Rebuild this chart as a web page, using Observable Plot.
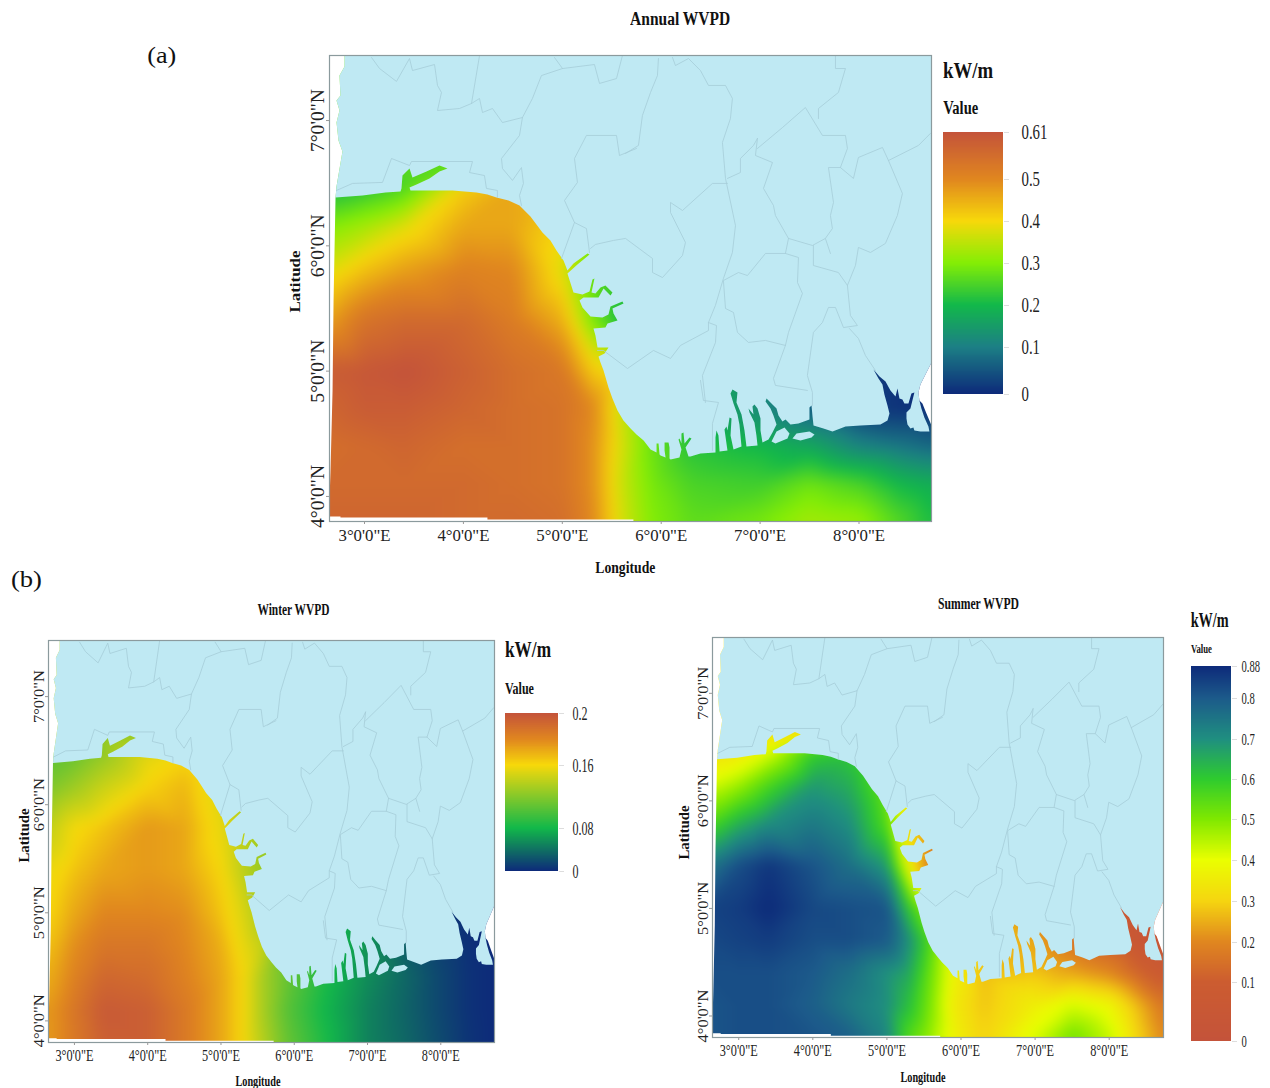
<!DOCTYPE html>
<html><head><meta charset="utf-8">
<script src="https://cdn.jsdelivr.net/npm/d3@7"></script>
<script src="https://cdn.jsdelivr.net/npm/@observablehq/plot@0.6"></script>
<style>
html,body{margin:0;padding:0;background:#fff}
#page{position:relative;width:1270px;height:1088px;overflow:hidden;font-family:"Liberation Serif",serif;color:#111}
#page>svg{position:absolute;overflow:visible}
.t{position:absolute;white-space:nowrap;line-height:1}
</style></head><body><div id="page"></div>
<script>
// Sampled grid of the wave-power surface: columns are longitudes, rows latitudes
const gridLons=[2.64,3,3.4,4,4.5,5,5.3,5.6,5.9,6.3,7,7.5,8,8.4,8.74];
const gridLats=[3.79,4.1,4.4,4.7,5.0,5.4,5.8,6.15,6.47,6.62,7.53];
const annualRows=[
[.57,.57,.57,.56,.56,.55,.50,.37,.30,.27,.29,.33,.32,.26,.21],
[.56,.56,.56,.56,.55,.54,.49,.36,.29,.25,.24,.28,.25,.20,.18],
[.55,.56,.57,.55,.55,.54,.49,.37,.28,.22,.20,.17,.11,.09,.07],
[.57,.59,.59,.57,.55,.54,.50,.36,.27,.20,.12,.06,.02,.01,.01],
[.59,.60,.61,.58,.55,.53,.42,.38,.30,.20,.12,.08,.03,.01,0],
[.47,.54,.56,.56,.52,.45,.30,.20,.20,.20,.15,.10,.03,.01,.01],
[.38,.43,.47,.51,.50,.38,.27,.25,.25,.25,.20,.10,.03,.01,.01],
[.30,.33,.38,.46,.46,.40,.30,.30,.30,.30,.20,.10,.03,.01,.01],
[.20,.22,.25,.41,.46,.42,.30,.30,.30,.30,.20,.10,.03,.01,.01],
[.25,.25,.26,.27,.30,.30,.30,.30,.30,.30,.20,.10,.03,.01,.01],
[.25,.25,.26,.27,.30,.30,.30,.30,.30,.30,.20,.10,.03,.01,.01]];
const winterRows=[
[.175,.185,.195,.195,.185,.172,.16,.135,.11,.09,.05,.035,.018,.005,0],
[.175,.186,.197,.195,.185,.172,.16,.13,.105,.085,.05,.033,.016,.004,0],
[.170,.182,.192,.19,.182,.172,.16,.13,.11,.09,.055,.035,.016,.004,0],
[.165,.178,.186,.186,.18,.17,.155,.14,.11,.09,.06,.03,.012,.003,0],
[.16,.172,.18,.18,.178,.165,.15,.13,.11,.09,.06,.03,.01,.002,0],
[.155,.165,.172,.175,.172,.16,.14,.125,.11,.09,.05,.03,.01,0,0],
[.14,.158,.165,.175,.172,.155,.14,.13,.13,.1,.05,.03,.01,0,0],
[.118,.13,.145,.162,.168,.15,.13,.13,.13,.1,.05,.03,.01,0,0],
[.105,.11,.125,.152,.16,.15,.13,.13,.13,.1,.05,.03,.01,0,0],
[.125,.125,.125,.125,.13,.13,.13,.13,.13,.1,.05,.03,.01,0,0],
[.125,.125,.125,.125,.13,.13,.13,.13,.13,.1,.05,.03,.01,0,0]];
const summerRows=[
[.81,.82,.82,.81,.79,.72,.55,.47,.37,.30,.42,.52,.44,.30,.20],
[.81,.82,.82,.79,.74,.70,.62,.50,.35,.28,.36,.42,.38,.26,.16],
[.82,.82,.82,.80,.76,.70,.66,.52,.37,.27,.28,.24,.20,.12,.08],
[.83,.84,.85,.82,.82,.80,.70,.55,.38,.30,.24,.16,.10,.05,.03],
[.84,.85,.88,.83,.82,.81,.60,.45,.30,.25,.20,.10,.06,.04,.03],
[.75,.82,.86,.81,.76,.68,.36,.15,.18,.20,.20,.10,.05,.03,.03],
[.56,.64,.70,.74,.70,.55,.30,.20,.25,.25,.20,.10,.05,.03,.03],
[.42,.47,.56,.68,.65,.52,.40,.30,.30,.25,.20,.10,.05,.03,.03],
[.32,.33,.40,.58,.60,.50,.40,.30,.30,.25,.20,.10,.05,.03,.03],
[.33,.33,.33,.33,.35,.35,.35,.30,.30,.25,.20,.10,.05,.03,.03],
[.33,.33,.33,.33,.35,.35,.35,.30,.30,.25,.20,.10,.05,.03,.03]];

// Colour scales
const annualStops=[0,.1,.2,.3,.4,.5,.61];
const annualColors=["#0d2a7a","#1c7f85","#12b84a","#84ee05","#f7d80a","#e0861f","#c4533a"];
const winterStops=[0,.08,.16,.18,.2];
const winterColors=["#0d2a7a","#12b84a","#f7d80a","#e0861f","#c4533a"];
const summerStops=[0,.1,.2,.3,.4,.5,.6,.7,.8,.88];
const summerColors=["#c4533a","#cc5c30","#e0861f","#f5d510","#eaff00","#7fe800","#2ecb2e","#1f8f80","#1c5a8a","#0d2a7a"];

// Land outline, lon/lat, running clockwise from the north-west corner of the map
const land=[[2.798,7.519],[8.733,7.519],[8.733,5.069],[8.682,4.989],[8.621,4.894],[8.601,4.830],[8.611,4.766],[8.631,4.702],[8.661,4.630],[8.702,4.558],[8.712,4.519],[8.621,4.519],[8.560,4.527],[8.550,4.551],[8.520,4.543],[8.490,4.575],[8.480,4.622],[8.480,4.670],[8.520,4.702],[8.540,4.766],[8.560,4.830],[8.530,4.822],[8.500,4.742],[8.459,4.742],[8.439,4.774],[8.409,4.782],[8.389,4.861],[8.369,4.798],[8.318,4.846],[8.268,4.918],[8.207,4.958],[8.146,5.013],[8.197,4.942],[8.237,4.894],[8.257,4.814],[8.288,4.726],[8.308,4.662],[8.288,4.606],[8.217,4.575],[8.015,4.567],[7.864,4.559],[7.732,4.519],[7.641,4.543],[7.540,4.567],[7.530,4.638],[7.520,4.726],[7.499,4.710],[7.499,4.614],[7.388,4.583],[7.307,4.575],[7.257,4.614],[7.226,4.598],[7.186,4.646],[7.166,4.702],[7.115,4.742],[7.065,4.782],[7.055,4.758],[7.105,4.702],[7.135,4.646],[7.166,4.575],[7.125,4.511],[7.085,4.455],[7.024,4.431],[7.004,4.527],[7.004,4.622],[6.974,4.702],[6.943,4.734],[6.923,4.718],[6.933,4.654],[6.883,4.702],[6.893,4.670],[6.943,4.590],[6.963,4.487],[6.974,4.407],[6.862,4.399],[6.842,4.527],[6.812,4.654],[6.761,4.750],[6.771,4.830],[6.721,4.854],[6.701,4.822],[6.731,4.742],[6.771,4.654],[6.791,4.575],[6.812,4.399],[6.731,4.375],[6.701,4.487],[6.711,4.622],[6.691,4.630],[6.670,4.527],[6.660,4.559],[6.640,4.535],[6.670,4.367],[6.590,4.359],[6.579,4.487],[6.559,4.527],[6.549,4.471],[6.549,4.351],[6.397,4.343],[6.296,4.319],[6.276,4.319],[6.246,4.391],[6.306,4.463],[6.286,4.471],[6.236,4.423],[6.225,4.511],[6.205,4.503],[6.205,4.423],[6.185,4.463],[6.175,4.455],[6.205,4.375],[6.185,4.311],[6.094,4.295],[6.084,4.303],[6.084,4.391],[6.074,4.431],[6.034,4.431],[6.034,4.367],[6.044,4.311],[5.993,4.327],[5.983,4.335],[5.973,4.423],[5.953,4.423],[5.953,4.351],[5.892,4.375],[5.822,4.447],[5.750,4.495],[5.690,4.543],[5.618,4.606],[5.558,4.686],[5.507,4.782],[5.467,4.870],[5.417,5.005],[5.386,5.069],[5.366,5.117],[5.427,5.141],[5.467,5.189],[5.356,5.189],[5.335,5.285],[5.315,5.340],[5.436,5.348],[5.457,5.380],[5.558,5.404],[5.518,5.460],[5.507,5.500],[5.619,5.540],[5.608,5.556],[5.487,5.516],[5.467,5.452],[5.406,5.428],[5.285,5.436],[5.204,5.508],[5.174,5.564],[5.214,5.588],[5.366,5.588],[5.417,5.660],[5.487,5.604],[5.507,5.628],[5.436,5.684],[5.386,5.668],[5.335,5.620],[5.295,5.628],[5.325,5.739],[5.305,5.731],[5.275,5.636],[5.204,5.612],[5.113,5.628],[5.052,5.779],[5.153,5.851],[5.275,5.931],[5.254,5.939],[5.113,5.859],[5.052,5.803],[5.012,5.883],[4.941,5.963],[4.880,6.043],[4.799,6.107],[4.678,6.234],[4.567,6.322],[4.456,6.362],[4.334,6.386],[4.243,6.410],[4.132,6.426],[3.890,6.442],[3.657,6.442],[3.465,6.442],[3.455,6.466],[3.526,6.490],[3.657,6.538],[3.758,6.594],[3.839,6.617],[3.758,6.641],[3.627,6.594],[3.485,6.546],[3.455,6.617],[3.384,6.561],[3.374,6.458],[3.364,6.434],[3.212,6.426],[2.980,6.402],[2.707,6.386],[2.717,6.474],[2.777,6.753],[2.737,6.841],[2.717,6.984],[2.747,7.080],[2.717,7.160],[2.757,7.200],[2.747,7.359],[2.798,7.431]];
const islands=[
[[7.327,4.463],[7.368,4.503],[7.499,4.519],[7.550,4.495],[7.520,4.471],[7.408,4.447]],
[[7.166,4.519],[7.247,4.551],[7.297,4.503],[7.277,4.463],[7.155,4.423],[7.115,4.439]]];
// Parts of the frame where the source raster has no data
const noData=[
[[2.646,7.519],[2.798,7.519],[2.798,7.431],[2.747,7.359],[2.757,7.200],[2.717,7.160],[2.747,7.080],[2.717,6.984],[2.737,6.841],[2.777,6.753],[2.717,6.474],[2.707,6.386],[2.687,5.564],[2.677,4.846],[2.656,4.2],[2.646,3.968],[2.646,3.84],[2.757,3.84],[2.757,3.832],[4.243,3.832],[4.243,3.816],[5.719,3.816],[5.719,3.80],[2.646,3.80]],
[[8.733,5.069],[8.682,4.989],[8.621,4.894],[8.601,4.830],[8.611,4.766],[8.641,4.742],[8.682,4.662],[8.733,4.567]]];
// Internal state boundaries
const borders=[
[[3.071,7.503],[3.152,7.415],[3.323,7.312],[3.455,7.495],[3.485,7.399],[3.708,7.447],[3.738,7.280],[3.778,7.224],[3.738,7.080],[3.960,7.096],[4.082,7.136],[4.163,7.176],[4.193,7.064],[4.294,7.096],[4.395,6.984],[4.597,7.024],[4.567,6.881],[4.385,6.697],[4.395,6.617],[4.496,6.522],[4.587,6.625],[4.607,6.498],[4.567,6.402],[4.587,6.322]],
[[4.163,7.519],[4.082,7.136]],
[[4.921,7.503],[5.002,7.415],[4.789,7.359],[4.698,7.176],[4.597,7.024]],
[[5.002,7.415],[5.325,7.447],[5.376,7.296],[5.548,7.335],[5.608,7.519]],
[[2.717,6.442],[2.879,6.498],[3.182,6.506],[3.273,6.697],[3.455,6.641],[3.475,6.673],[4.092,6.673],[4.062,6.585],[4.213,6.561],[4.233,6.458],[4.344,6.442],[4.344,6.386]],
[[5.750,6.777],[5.578,6.721],[5.548,6.881],[5.244,6.881],[5.123,6.697],[5.153,6.506],[5.022,6.362],[5.123,6.186],[5.244,6.138],[5.275,5.947]],
[[5.123,6.186],[4.992,5.899]],
[[5.972,7.495],[5.962,7.359],[5.892,7.224],[5.810,7.040],[5.770,6.801],[5.639,6.737]],
[[6.114,7.503],[6.144,7.439],[6.276,7.495],[6.397,7.399],[6.478,7.280],[6.650,7.280],[6.720,7.176],[6.700,7.016],[6.619,6.825],[6.650,6.538],[6.751,6.162],[6.720,5.947],[6.629,5.739],[6.548,5.524],[6.478,5.388],[6.559,5.364],[6.549,5.229],[6.417,4.965],[6.447,4.750]],
[[5.356,5.165],[5.416,5.165],[5.659,5.021],[5.922,5.165],[6.094,5.101],[6.195,5.205],[6.478,5.324],[6.478,5.388]],
[[6.973,6.857],[6.933,6.801],[6.801,6.697],[6.801,6.585],[6.670,6.538]],
[[6.973,6.857],[6.953,6.721],[7.125,6.665],[7.034,6.458],[7.135,6.322],[7.155,6.242],[7.287,6.059],[7.529,6.003],[7.660,6.059],[7.711,5.939]],
[[6.973,6.777],[7.226,6.944],[7.458,7.104],[7.630,6.881],[7.863,6.881],[7.883,6.777],[7.812,6.625],[7.691,6.625],[7.742,6.346],[7.711,6.242],[7.731,6.138],[7.660,6.059]],
[[7.812,6.625],[7.944,6.538],[7.994,6.705],[8.237,6.785],[8.298,6.681],[8.439,6.418],[8.388,6.242],[8.267,6.019],[8.116,5.947],[7.994,5.987],[7.964,5.843],[7.883,5.684],[7.913,5.444],[7.984,5.364],[7.843,5.348],[7.762,5.508],[7.691,5.508],[7.630,5.388],[7.539,5.309],[7.478,4.965],[7.529,4.830],[7.529,4.726]],
[[7.762,7.519],[7.762,7.415],[7.863,7.415],[7.792,7.224],[7.590,7.096],[7.590,7.016]],
[[8.298,6.681],[8.601,6.801],[8.722,6.897]],
[[7.287,6.059],[7.256,5.939],[7.388,5.907],[7.378,5.707],[7.428,5.620],[7.287,5.309],[7.256,5.205],[7.135,4.942],[7.155,4.886],[7.478,4.846]],
[[7.256,5.939],[7.054,5.939],[6.872,5.763],[6.781,5.787],[6.629,5.723],[6.650,5.500],[6.731,5.468],[6.771,5.309],[6.882,5.229],[7.054,5.245],[7.256,5.205]],
[[7.539,6.003],[7.539,5.843],[7.792,5.787],[7.883,5.684]],
[[6.670,6.498],[6.518,6.498],[6.215,6.282],[6.094,6.346],[6.094,6.266],[6.245,6.027],[6.215,5.923],[6.013,5.747],[5.912,5.787],[5.912,5.899],[5.639,6.059],[5.517,6.043],[5.335,6.011],[5.285,5.979]],
[[6.397,4.926],[6.427,4.766],[6.579,4.750],[6.518,4.582],[6.518,4.367]],
[[7.903,5.340],[7.994,5.261],[8.065,5.125],[8.166,5.005]]];

const lonTicks=[3,4,5,6,7,8];
const latTicks=[4,5,6,7];
const lonDomain=[2.646,8.733];
const latDomain=[3.80,7.519];
const annualLegendTicks=[0,.1,.2,.3,.4,.5,.61];
const winterLegendTicks=[0,.08,.16,.2];
const summerLegendTicks=[0,.1,.2,.3,.4,.5,.6,.7,.8,.88];

const page=document.getElementById("page");
const flat=(arr)=>arr.flatMap((ring,id)=>ring.map(([lon,lat])=>({lon,lat,id})));
const serif='"Liberation Serif",serif';

function drawMap(o){
  const pts=gridLats.flatMap((lat,i)=>gridLons.map((lon,j)=>({lon,lat,value:o.rows[i][j]})));
  const ml=45,mt=8,mr=6,mb=36;
  const svg=Plot.plot({
    width:ml+o.w+mr,height:mt+o.h+mb,marginLeft:ml,marginTop:mt,marginRight:mr,marginBottom:mb,
    style:{background:"none",fontFamily:serif,overflow:"visible",color:"#222"},
    x:{domain:lonDomain},y:{domain:latDomain},
    color:{type:"linear",domain:o.stops,range:o.colors,interpolate:"rgb",clamp:true},
    marks:[
      Plot.raster(pts,{x:"lon",y:"lat",fill:"value",x1:lonDomain[0],x2:lonDomain[1],y1:latDomain[0],y2:latDomain[1],interpolate:"barycentric",pixelSize:1,blur:o.blur}),
      Plot.line(land,{x:d=>d[0],y:d=>d[1],fill:"#bfe9f3",stroke:"none"}),
      Plot.line(flat(islands),{x:"lon",y:"lat",z:"id",fill:"#bfe9f3",stroke:"none"}),
      Plot.line(flat(noData),{x:"lon",y:"lat",z:"id",fill:"#ffffff",stroke:"none"}),
      Plot.line(flat(borders),{x:"lon",y:"lat",z:"id",stroke:"#a6cdd8",strokeWidth:.8}),
      Plot.frame({stroke:"#8b9a9d",strokeWidth:1.2}),
      Plot.axisX({ticks:lonTicks,tickFormat:d=>`${d}°0'0"E`,tickSize:3,tickPadding:o.xPad,label:null,fontSize:o.xFont,stroke:"#999",fill:"#222"}),
      Plot.axisY({ticks:latTicks,tickFormat:d=>`${d}°0'0"N`,tickSize:3,tickPadding:o.yPad,label:null,tickRotate:-90,fontSize:o.yFont,stroke:"#999",fill:"#222"})
    ]
  });
  svg.style.left=(o.x-ml)+"px";svg.style.top=(o.y-mt)+"px";
  page.appendChild(svg);
  d3.select(svg).selectAll('g[aria-label="x-axis tick label"] text').attr("textLength",o.xLen).attr("lengthAdjust","spacingAndGlyphs");
  d3.select(svg).selectAll('g[aria-label="y-axis tick label"] text').attr("textLength",o.yLen).attr("lengthAdjust","spacingAndGlyphs");
}

function drawLegend(o){
  const top=o.positions[o.positions.length-1],bot=o.positions[0];
  const max=o.ticks[o.ticks.length-1];
  const levels=d3.ticks(0,max,300).filter(v=>v<max);
  const step=levels[1]-levels[0];
  const ml=0,mr=40,mt=10,mb=10;
  const svg=Plot.plot({
    width:o.w+mr,height:bot-top+mt+mb,marginLeft:ml,marginRight:mr,marginTop:mt,marginBottom:mb,
    style:{background:"none",fontFamily:serif,overflow:"visible",color:"#222"},
    x:{domain:[0,1],range:[0,o.w],axis:null},
    y:{type:"linear",domain:o.ticks,range:o.positions.map(p=>p-top+mt)},
    color:{type:"linear",domain:o.stops,range:o.colors,interpolate:"rgb",clamp:true},
    marks:[
      Plot.rect(levels,{x1:0,x2:1,y1:d=>d,y2:d=>Math.min(max,d+step*1.6),fill:d=>d+step/2,shapeRendering:"crispEdges"}),
      Plot.axisY({anchor:"right",x:1,ticks:o.ticks,tickFormat:d=>String(d),tickSize:5,tickPadding:o.pad,label:null,fontSize:o.font,stroke:"#ddd",fill:"#222"})
    ]
  });
  svg.style.left=o.x+"px";svg.style.top=(top-mt)+"px";
  page.appendChild(svg);
  d3.select(svg).selectAll('g[aria-label="y-axis tick label"] text').each(function(){
    const s=this.textContent;
    const units=s.length===1?1:(s.length-1)+.5;
    d3.select(this).attr("textLength",units*o.digit).attr("lengthAdjust","spacingAndGlyphs");
  });
}

// Places a text item and squeezes it to the width it has in the source figure
function label(text,cx,cy,font,len,opt={}){
  const el=document.createElement("div");
  el.className="t";el.textContent=text;
  el.style.fontSize=font+"px";
  el.style.fontWeight=opt.normal?"400":"700";
  page.appendChild(el);
  const w=el.getBoundingClientRect().width;
  const k=len/w;
  el.style.left=(cx-w/2)+"px";
  el.style.top=(cy-font/2)+"px";
  el.style.transform=(opt.rotate?`rotate(${opt.rotate}deg) `:"")+`scaleX(${k})`;
}

drawMap({rows:annualRows,stops:annualStops,colors:annualColors,x:329,y:55,w:602,h:466,blur:6,xFont:17,xLen:52,xPad:4,yFont:18,yLen:63,yPad:3});
drawMap({rows:winterRows,stops:winterStops,colors:winterColors,x:48,y:640,w:446,h:402,blur:5,xFont:16,xLen:38,xPad:4,yFont:14,yLen:53,yPad:2});
drawMap({rows:summerRows,stops:summerStops,colors:summerColors,x:712,y:637,w:451,h:400,blur:5,xFont:16,xLen:38,xPad:4,yFont:14,yLen:53,yPad:2});

drawLegend({x:943,w:60,ticks:annualLegendTicks,positions:[394,347,305,263,221,179,132],stops:annualStops,colors:annualColors,font:20,digit:7.4,pad:13});
drawLegend({x:505,w:53,ticks:winterLegendTicks,positions:[871,828,765,713],stops:winterStops,colors:winterColors,font:19,digit:6,pad:9});
drawLegend({x:1191,w:40,ticks:summerLegendTicks,positions:[1041,982,942,901,860,819,779,739,698,666],stops:summerStops,colors:summerColors,font:17,digit:5.3,pad:5});

label("Annual WVPD",680,19,18,100);
label("(a)",162,55,23,29,{normal:true});
label("(b)",26,579,23,31,{normal:true});
label("Longitude",625,567,17,60);
label("Latitude",296,281,15,62,{rotate:-90});
label("kW/m",968,70,24,50);
label("Value",960.5,108,18,35);

label("Winter WVPD",293,610,16,72);
label("Longitude",258,1081,15,45);
label("Latitude",24,835,15,54,{rotate:-90});
label("kW/m",528,649,24,46);
label("Value",519.5,688,17,29);

label("Summer WVPD",978,604,16,81);
label("Longitude",923,1077,15,45);
label("Latitude",685,832,15,54,{rotate:-90});
label("kW/m",1210,620,20,38);
label("Value",1201.5,649,12,21);
</script></body></html>
